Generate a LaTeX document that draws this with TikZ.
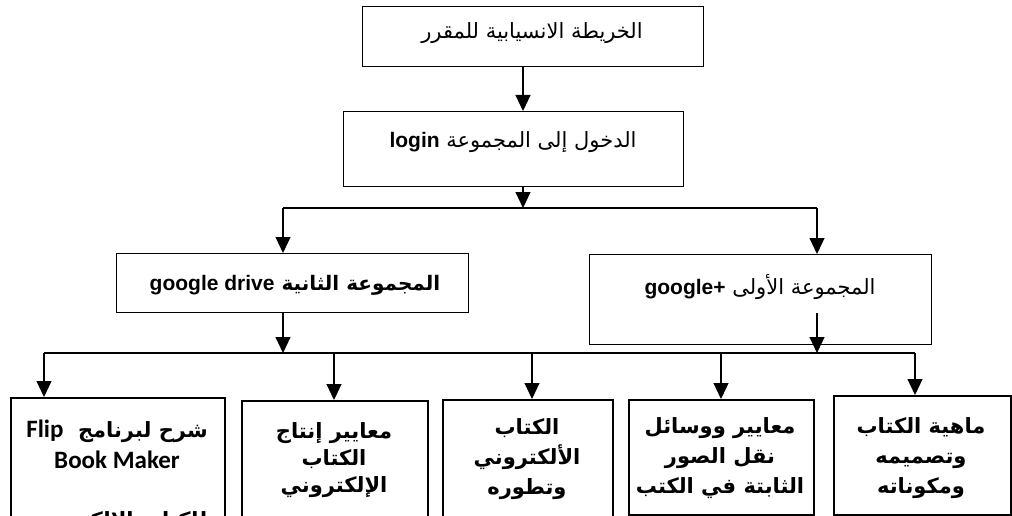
\documentclass[tikz,border=0pt]{standalone}
\usepackage{fontspec}
\setmainfont{Liberation Sans}
\newfontfamily\arabicfont[Script=Arabic]{DejaVu Sans}
\newfontfamily\lsans{Liberation Sans}
\newfontfamily\calib{Carlito}
\usetikzlibrary{arrows.meta}
\TeXXeTstate=1
\begin{document}
\begin{tikzpicture}[x=1pt,y=-1pt,
  frame/.style={draw=black, line width=1.1pt, inner sep=0pt, anchor=north west},
  bframe/.style={draw=black, line width=1.6pt, inner sep=0pt, anchor=north west},
  atext/.style={inner sep=0pt, font=\arabicfont\fontsize{21}{24}\selectfont},
  btext/.style={inner sep=0pt, align=center, font=\arabicfont\bfseries\fontsize{21}{30}\selectfont},
  arr/.style={line width=1.1pt, -{Triangle[width=15pt,length=16pt]}},
  conn/.style={line width=1.1pt}]
\useasboundingbox (0,0) rectangle (1012,516);
\fill[white] (0,0) rectangle (1012,516);

% top boxes
\node[frame, minimum width=341pt, minimum height=60pt] (top) at (362,6) {};
\node[atext] (toptxt) at (532,33) {\beginR الخريطة الانسيابية للمقرر\endR};

\node[frame, minimum width=340pt, minimum height=75pt] (login) at (343,111) {};
\node[atext] (logintxt) at (513,142) {\beginR الدخول إلى المجموعة {\lsans\bfseries\fontsize{21}{24}\selectfont\beginL login\endL}\endR};

\node[frame, minimum width=352pt, minimum height=59pt] (gd) at (116,253) {};
\node[atext, font=\arabicfont\bfseries\fontsize{20}{24}\selectfont] (gdtxt) at (295,285) {\beginR المجموعة الثانية {\lsans\bfseries\fontsize{21}{24}\selectfont\beginL google drive\endL}\endR};

\node[frame, minimum width=342pt, minimum height=90pt] (gp) at (589,254) {};
\node[atext] (gptxt) at (760,287) {\beginR المجموعة الأولى {\lsans\bfseries\fontsize{21}{24}\selectfont\beginL google+\endL}\endR};

% bottom boxes
\node[bframe, minimum width=214pt, minimum height=150pt] (b1) at (10,397) {};
\node[bframe, minimum width=186pt, minimum height=150pt] (b2) at (241,400) {};
\node[bframe, minimum width=170pt, minimum height=150pt] (b3) at (442,399) {};
\node[bframe, minimum width=185pt, minimum height=115pt] (b4) at (628,399) {};
\node[bframe, minimum width=177pt, minimum height=119pt] (b5) at (833,395) {};

\node[btext] (b1txt) at (117,444) {\beginR شرح لبرنامج\ \ {\calib\bfseries\fontsize{25}{30}\selectfont\beginL Flip\endL}\endR\\[1pt]{\calib\bfseries\fontsize{25}{30}\selectfont Book Maker}};
\node[btext, anchor=base] (b1cut) at (117,527) {\beginR للكتاب الإلكتروني\endR};
\node[btext] (b2txt) at (334,460) {\beginR معايير إنتاج\endR\\[-3pt]\beginR الكتاب\endR\\[-3pt]\beginR الإلكتروني\endR};
\node[btext] (b3txt) at (527,459) {\beginR الكتاب\endR\\\beginR الألكتروني\endR\\\beginR وتطوره\endR};
\node[btext] (b4txt) at (720,458) {\beginR معايير ووسائل\endR\\\beginR نقل الصور\endR\\\beginR الثابتة في الكتب\endR};
\node[btext] (b5txt) at (921,458) {\beginR ماهية الكتاب\endR\\\beginR وتصميمه\endR\\\beginR ومكوناته\endR};

% junction coordinates
\coordinate (c1) at (523,0);
\coordinate (j1) at (523,208);
\coordinate (j1l) at (283,208);
\coordinate (j1r) at (817,208);
\coordinate (j2l) at (283,353);
\coordinate (j2r) at (817,353);
\coordinate (gpin) at (817,313);
\coordinate (h0) at (44,353);
\coordinate (h1) at (334,353);
\coordinate (h2) at (532,353);
\coordinate (h3) at (721,353);
\coordinate (h4) at (915,353);

% connectors
\draw[arr] (top.south -| c1) -- (login.north -| c1);
\draw[arr] (login.south -| j1) -- (j1);
\draw[conn] (j1l) -- (j1r);
\draw[arr] (j1l) -- (gd.north -| j1l);
\draw[arr] (j1r) -- (gp.north -| j1r);
\draw[arr] (gd.south -| j2l) -- (j2l);
\draw[arr] (gpin) -- (j2r);
\draw[conn] (h0) -- (h4);
\draw[arr] (h0) -- (b1.north -| h0);
\draw[arr] (h1) -- (b2.north -| h1);
\draw[arr] (h2) -- (b3.north -| h2);
\draw[arr] (h3) -- (b4.north -| h3);
\draw[arr] (h4) -- (b5.north -| h4);
\end{tikzpicture}
\end{document}
